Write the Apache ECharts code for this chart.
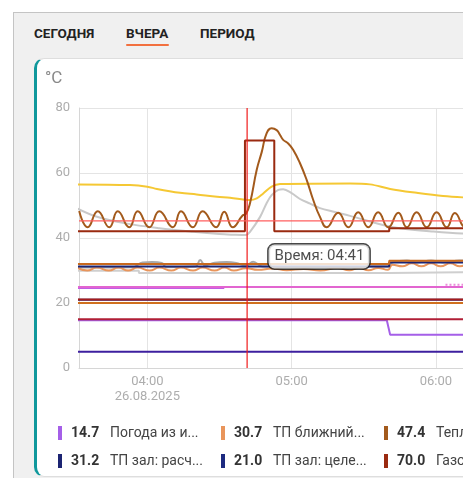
<!DOCTYPE html>
<html>
<head>
<meta charset="utf-8">
<script src="https://cdn.jsdelivr.net/npm/echarts@6/dist/echarts.min.js"></script>
<style>
  html, body { margin: 0; padding: 0; }
  body { width: 463px; height: 478px; overflow: hidden; position: relative; background: #fff; font-family: Roboto, "Noto Sans", sans-serif; }
  .panel { position: absolute; left: 13px; top: 12px; width: 700px; height: 700px; background: #f0f0f0; border-top: 1px solid #c4c4c4; border-left: 1px solid #c4c4c4; }
  .tab { position: absolute; top: 25px; line-height: 16px; font-size: 13.5px; font-weight: 700; color: #222; white-space: nowrap; }
  .tab-line { position: absolute; height: 2.5px; top: 43.5px; background: #f2703f; border-radius: 1px; }
  .card { position: absolute; left: 34px; top: 57.5px; width: 700px; height: 419px; box-sizing: border-box; background: #fff; border-left: 3px solid #10989c; border-top: 1px solid #dedede; border-bottom: 1px solid #dedede; border-radius: 10px 0 0 10px; }
  #chart { position: absolute; left: 0; top: 0; width: 600px; height: 478px; }
</style>
</head>
<body>
<div class="panel"></div>
<div id="tabs"></div>
<div class="card"></div>
<div id="chart"></div>
<script>
// ---- period tabs ----
const tabLabels = ['СЕГОДНЯ', 'ВЧЕРА', 'ПЕРИОД'];
const activeTab = 1;

// ---- day shown and the hovered moment ----
const dayLabel = '26.08.2025';
const cursorTime = '04:41:30';
const unitLabel = '°C';

// ---- series: times (HH:MM[:SS]) and values ----
const weatherTimes  = ['03:31', '05:39:36', '05:41', '06:32'];
const weatherValues = [14.7, 14.7, 10.2, 10.2];

const nearLoopTimes  = ['03:31','03:35','03:39','03:44','03:48','03:52','03:56','04:01','04:05','04:10','04:14','04:19','04:23','04:28','04:32','04:36','04:41','04:46','04:52','04:58','05:05','05:12','05:19','05:24','05:28','05:32','05:36','05:40','05:42','05:46','05:50','05:54','05:58','06:02','06:06','06:10','06:14','06:18','06:22','06:26','06:30'];
const nearLoopValues = [30.8,30.0,30.9,30.0,30.9,30.0,30.9,30.0,30.9,30.0,30.9,30.0,30.9,30.0,30.9,30.0,30.7,30.2,30.6,30.1,30.5,30.0,30.8,30.1,30.8,30.1,30.8,30.2,31.8,31.3,32.2,31.3,32.2,31.3,32.2,31.3,32.2,31.3,32.2,31.3,32.2];

const carrierTimes  = ['03:31:40','03:35:12','03:39:24','03:44:12','03:47:42','03:52:30','03:56:00','04:00:48','04:05:00','04:10:36','04:14:00','04:18:54','04:23:00','04:28:36','04:32:00','04:35:30','04:39:42','04:41:00','04:42:42','04:45:30','04:47:36','04:49:36','04:51:42','04:53:48','04:55:12','04:56:30','04:58:36','05:00:42','05:03:30','05:06:18','05:09:00','05:11:48','05:14:36','05:19:24','05:23:36','05:27:42','05:31:54','05:36:00','05:40:12','05:44:24','05:47:54','05:52:00','05:56:12','06:00:18','06:04:30','06:07:54','06:12:06','06:16:18','06:20:24','06:24:36','06:28:42','06:32:54'];
const carrierValues = [48.3,43.3,48.2,43.3,48.2,43.3,48.2,43.3,48.2,43.3,48.2,43.3,48.2,43.3,48.1,43.3,47.0,47.4,50.7,61.0,66.5,72.2,73.8,73.2,71.7,70.2,69.1,67.1,63.0,57.8,51.7,46.5,43.3,47.8,43.3,47.9,43.3,47.9,43.3,47.8,43.3,47.9,43.3,47.9,43.3,47.7,43.3,47.8,43.3,47.8,43.3,47.8];

const hallCalcTimes  = ['03:31', '05:40:36', '06:32'];
const hallCalcValues = [31.2, 32.5, 32.5];

const hallTargetTimes  = ['03:31', '06:32'];
const hallTargetValues = [21.0, 21.0];

const boilerTimes  = ['03:31', '04:40:36', '04:52:48', '05:40:36', '06:32'];
const boilerValues = [42.1, 70.0, 42.1, 43.0, 43.0];

const outletTimes  = ['03:31','03:52:48','04:00','04:04','04:13:36','04:20:30','04:29','04:34:24','04:42:42','04:45:30','04:48:12','04:51:42','04:55:12','05:24:18','05:32:36','05:41','05:52','06:03','06:11:18','06:30'];
const outletValues = [56.5,56.3,55.8,55.1,53.9,53.4,52.7,52.4,51.7,52.2,53.7,55.8,56.6,56.8,56.5,55.1,53.9,52.9,52.5,52.0];

const returnTimes  = ['03:31','03:38:42','03:51','04:05','04:19','04:30','04:36','04:41','04:42:42','04:46:54','04:49:36','04:51:42','04:54:30','04:56:30','05:00','05:03:30','05:07:42','05:11:48','05:18','05:24:18','05:38','05:45','05:59','06:11','06:30'];
const returnValues = [49.0,46.6,44.5,43.0,41.9,41.2,41.0,40.9,41.9,46.5,50.7,53.2,54.8,55.0,53.8,52.0,50.6,49.2,48.0,46.8,44.0,43.0,42.0,41.4,41.0];

const hallFactTimes  = ['03:31', '05:40:36', '06:32'];
const hallFactValues = [32.0, 33.0, 33.0];

const roomTimes  = ['03:31','03:54','03:58','04:02','04:06','04:08','04:20','04:22','04:24','04:28','04:33','04:37','04:41','04:44','04:48','05:40','05:42','05:48','05:52','05:58','06:03','06:10','06:32'];
const roomValues = [30.9,31.0,32.5,32.6,32.3,31.0,31.2,33.2,31.6,32.4,32.6,32.3,31.5,32.7,31.2,31.2,32.5,33.1,32.5,33.1,32.5,33.1,32.5];

const floorTimes  = ['03:31', '03:56:30', '05:40:36', '06:32'];
const floorValues = [29.9, 29.2, 29.6, 29.6];

const bathTimes  = ['03:31', '06:32'];
const bathValues = [24.9, 24.9];
const bedroomTimes  = ['03:31', '04:32'];
const bedroomValues = [24.6, 24.6];
const kidsTimes  = ['06:04', '06:32'];
const kidsValues = [25.6, 25.6];

const dhwMinTimes  = ['03:31', '06:32'];
const dhwMinValues = [20.0, 20.0];
const hallMinTimes  = ['03:31', '06:32'];
const hallMinValues = [21.1, 21.1];
const frostTimes  = ['03:31', '06:32'];
const frostValues = [15.0, 15.0];
const outsideMinTimes  = ['03:31', '06:32'];
const outsideMinValues = [5.0, 5.0];

const crosshairValue = 45.3;
const tipAnchorValue = 34.3;

// ---- axis ranges ----
const xMinTime = '03:31:35';
const xMaxTime = '06:30:00';
const yMin = 0, yMax = 80, yStep = 20;

// ---- helpers ----
function ts(hms) {
  const p = hms.split(':').map(Number);
  return new Date(2025, 7, 26, p[0], p[1], p[2] || 0).getTime();
}
function pairs(times, values) { return times.map((t, i) => [ts(t), values[i]]); }
function pad(n) { return (n < 10 ? '0' : '') + n; }
function hhmm(v) { const d = new Date(v); return pad(d.getHours()) + ':' + pad(d.getMinutes()); }

// drawing order: earlier entries sit underneath
const lines = [
  { name: 'Пол зал',             times: floorTimes,       values: floorValues,       color: '#cfcfcf', step: 'end' },
  { name: 'Комната',             times: roomTimes,        values: roomValues,        color: '#a9a9a9', smooth: 0.4 },
  { name: 'ТП ближний контур',   times: nearLoopTimes,    values: nearLoopValues,    color: '#e9955b', smooth: 0.5 },
  { name: 'ТП зал: расчетная',   times: hallCalcTimes,    values: hallCalcValues,    color: '#1c2472', step: 'end' },
  { name: 'ТП зал: факт',        times: hallFactTimes,    values: hallFactValues,    color: '#c8691e', step: 'end' },
  { name: 'Спальня',             times: bedroomTimes,     values: bedroomValues,     color: '#c25ce6' },
  { name: 'Ванная',              times: bathTimes,        values: bathValues,        color: '#e265d0' },
  { name: 'Детская',             times: kidsTimes,        values: kidsValues,        color: '#ea8cd9', dotted: true },
  { name: 'ГВС мин.',            times: dhwMinTimes,      values: dhwMinValues,      color: '#d0701e' },
  { name: 'ТП зал: целевая',     times: hallTargetTimes,  values: hallTargetValues,  color: '#1d2a80' },
  { name: 'Зал мин.',            times: hallMinTimes,     values: hallMinValues,     color: '#a51c1c' },
  { name: 'Погода из интернета', times: weatherTimes,     values: weatherValues,     color: '#a55fe8' },
  { name: 'Защита от замерзания',times: frostTimes,       values: frostValues,       color: '#b01e36' },
  { name: 'Улица мин.',          times: outsideMinTimes,  values: outsideMinValues,  color: '#3d1f9f' },
  { name: 'Обратка',             times: returnTimes,      values: returnValues,      color: '#c9c9c9', smooth: 0.35 },
  { name: 'Подача',              times: outletTimes,      values: outletValues,      color: '#f5c834', smooth: 0.35 },
  { name: 'Теплоноситель',       times: carrierTimes,     values: carrierValues,     color: '#a35a1c', smooth: 0.5 },
  { name: 'Газовый котел',       times: boilerTimes,      values: boilerValues,      color: '#9a2a10', step: 'end' }
];

const legendNames = ['Погода из интернета', 'ТП ближний контур', 'Теплоноситель', 'ТП зал: расчетная', 'ТП зал: целевая', 'Газовый котел'];

const cursorTs = ts(cursorTime);
function valueAtCursor(name) {
  const s = lines.find(l => l.name === name);
  let v = s.values[0];
  s.times.forEach((t, i) => { if (ts(t) <= cursorTs) v = s.values[i]; });
  return v;
}

// ---- tabs ----
const tabX = [34, 126, 200];
const tabsEl = document.getElementById('tabs');
tabLabels.forEach((label, i) => {
  const el = document.createElement('div');
  el.className = 'tab';
  el.style.left = tabX[i] + 'px';
  el.textContent = label;
  tabsEl.appendChild(el);
  if (i === activeTab) {
    const u = document.createElement('div');
    u.className = 'tab-line';
    u.style.left = tabX[i] + 'px';
    u.style.width = '42.5px';
    tabsEl.appendChild(u);
  }
});

// ---- chart ----
const xMin = ts(xMinTime);
const xMax = ts(xMaxTime);
const firstHour = (() => { const d = new Date(xMin); d.setMinutes(0, 0, 0); d.setHours(d.getHours() + 1); return d.getTime(); })();

// legend names are cut to a fixed width with a trailing ellipsis
const legendFont = '14px Roboto';
const truncWidth = 95;
const nameWidth = 97;
const measureCtx = document.createElement('canvas').getContext('2d');
function shortName(name) {
  measureCtx.font = legendFont;
  if (measureCtx.measureText(name).width <= truncWidth) return name;
  let s = name;
  while (s.length > 1 && measureCtx.measureText(s + '...').width > truncWidth) s = s.slice(0, -1);
  return s + '...';
}

const series = lines.map(l => ({
  name: l.name,
  type: 'line',
  data: pairs(l.times, l.values),
  showSymbol: false,
  symbol: 'none',
  step: l.step || false,
  smooth: l.smooth || false,
  color: l.color,
  lineStyle: { color: l.color, width: 2, type: l.dotted ? 'dotted' : 'solid' },
  emphasis: { disabled: true },
  silent: true
}));

// crosshair: vertical line at the hovered time, horizontal line at the hovered value
function guide(name, data, color, width) {
  return {
    name: name, type: 'line', data: data, z: 9, silent: true,
    showSymbol: false, symbol: 'none', color: color,
    lineStyle: { color: color, width: width, type: 'solid' },
    emphasis: { disabled: true }
  };
}
series.push(guide('crosshair-x', [[cursorTs, yMin], [cursorTs, yMax]], '#f01c1c', 1.2));
series.push(guide('crosshair-y', [[xMin, crosshairValue], [xMax, crosshairValue]], '#ff5f5f', 1.3));

// time bubble beside the cursor
series.push({
  name: 'cursor-time',
  type: 'scatter',
  z: 10,
  silent: true,
  symbolSize: 1,
  itemStyle: { color: 'rgba(0,0,0,0)' },
  data: [[cursorTs, tipAnchorValue]],
  label: {
    show: true,
    position: 'right',
    distance: 21,
    formatter: 'Время: ' + hhmm(cursorTs),
    fontFamily: 'Roboto',
    fontSize: 15,
    color: '#1f1f1f',
    backgroundColor: '#fff',
    borderColor: '#1a1a1a',
    borderWidth: 1.5,
    borderRadius: 6,
    padding: [5, 5, 4, 6]
  }
});

const chart = echarts.init(document.getElementById('chart'), null, { renderer: 'canvas' });
chart.setOption({
  animation: false,
  textStyle: { fontFamily: 'Roboto' },
  title: {
    text: unitLabel, left: 45, top: 70, padding: 0,
    textStyle: { fontFamily: 'Roboto', fontSize: 17, fontWeight: 'normal', color: '#888' }
  },
  grid: { left: 79, top: 108, bottom: 110, right: 92, containLabel: false },
  xAxis: {
    type: 'time',
    min: xMin,
    max: xMax,
    minInterval: 3600 * 1000,
    maxInterval: 3600 * 1000,
    axisLine: { show: true, lineStyle: { color: '#d6d6d6', width: 1 } },
    axisTick: { show: false },
    splitLine: { show: true, lineStyle: { color: '#e4e4e4', width: 1 } },
    axisLabel: {
      showMinLabel: false,
      showMaxLabel: false,
      margin: 6,
      fontFamily: 'Roboto',
      fontSize: 13,
      lineHeight: 15,
      color: '#adadad',
      formatter: v => hhmm(v) + (v === firstHour ? '\n' + dayLabel : '')
    }
  },
  yAxis: {
    type: 'value',
    min: yMin, max: yMax, interval: yStep,
    axisLine: { show: true, lineStyle: { color: '#d6d6d6', width: 1 } },
    axisTick: { show: false },
    splitLine: { show: true, lineStyle: { color: '#e4e4e4', width: 1 } },
    axisLabel: { margin: 9, fontFamily: 'Roboto', fontSize: 13, color: '#adadad' }
  },
  legend: {
    data: legendNames,
    left: 58,
    top: 426,
    width: 495,
    padding: 0,
    itemGap: 14,
    itemWidth: 4,
    itemHeight: 14,
    icon: 'rect',
    selectedMode: false,
    formatter: name => '{s|}{v|' + valueAtCursor(name).toFixed(1) + '}{n|' + shortName(name) + '}',
    textStyle: {
      fontFamily: 'Roboto',
      rich: {
        s: { width: 4, lineHeight: 16 },
        v: { width: 39, fontFamily: 'Roboto', fontSize: 14, fontWeight: 'bold', color: '#333', lineHeight: 16 },
        n: { width: nameWidth, fontFamily: 'Roboto', fontSize: 14, color: '#444', lineHeight: 16 }
      }
    }
  },
  series: series
});
</script>
</body>
</html>
